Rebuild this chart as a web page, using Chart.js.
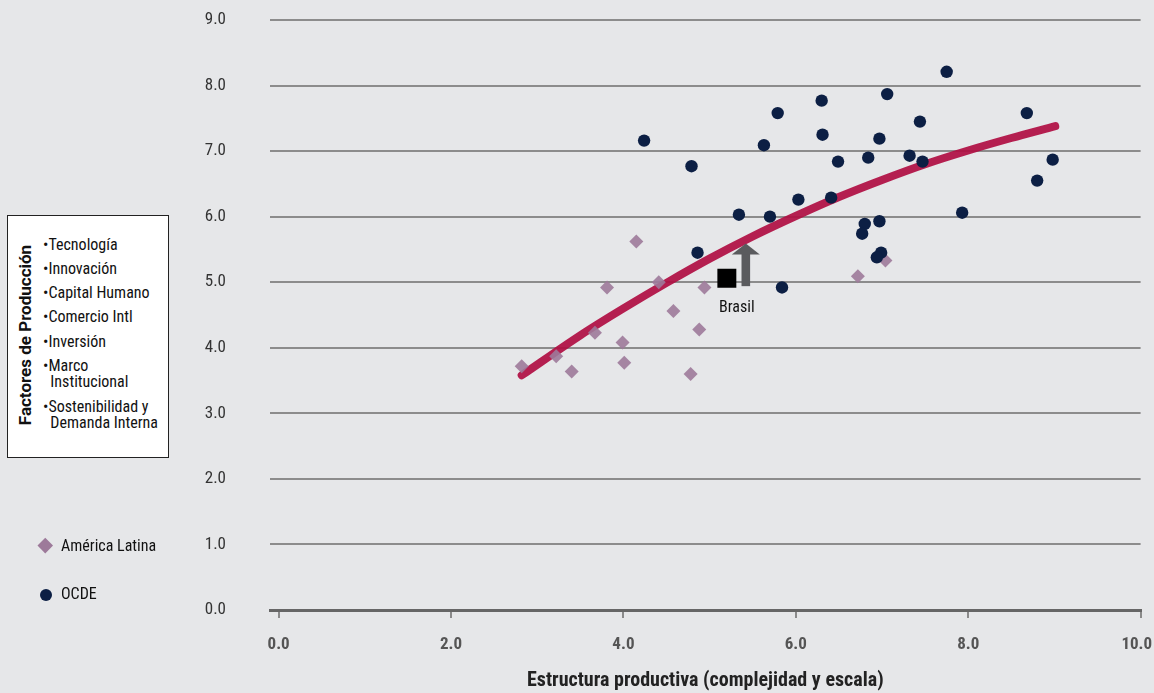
<!DOCTYPE html>
<html><head><meta charset="utf-8">
<script src="https://cdn.jsdelivr.net/npm/chart.js@4/dist/chart.umd.min.js"></script>
<style>
html,body{margin:0;padding:0;background:#e6e7e9;}
#wrap{position:relative;width:1154px;height:693px;overflow:hidden;}
#c{position:absolute;left:0;top:0;}
.f{font-family:'Liberation Sans Narrow','Roboto Condensed',Roboto,sans-serif;}
#box{position:absolute;left:7px;top:215px;width:160px;height:241px;border:1px solid #222;background:#fff;box-sizing:content-box;}
#vt{position:absolute;left:25px;top:335px;transform:translate(-50%,-50%) rotate(-90deg);white-space:nowrap;font-weight:bold;font-size:17px;color:#111;font-family:Roboto,sans-serif;}
.li{position:absolute;left:43px;font-size:16px;color:#111;white-space:nowrap;line-height:16.5px;}
.lg{position:absolute;left:61px;font-size:16px;color:#111;white-space:nowrap;line-height:18px;}
#dia{position:absolute;left:40px;top:540px;width:10.5px;height:10.5px;background:#9d7a9a;transform:rotate(45deg);}
#dot{position:absolute;left:39.5px;top:589px;width:12px;height:12px;border-radius:50%;background:#0c1f44;}
</style></head><body>
<div id="wrap">
<canvas id="c" width="1154" height="693"></canvas>
<div id="box"></div>
<div id="vt">Factores de Producción</div>
<div class="li f" style="top:236.5px">•Tecnología</div>
<div class="li f" style="top:260.5px">•Innovación</div>
<div class="li f" style="top:284.5px">•Capital Humano</div>
<div class="li f" style="top:308.5px">•Comercio Intl</div>
<div class="li f" style="top:333.5px">•Inversión</div>
<div class="li f" style="top:357.5px">•Marco<br>&nbsp;&nbsp;Institucional</div>
<div class="li f" style="top:398.5px">•Sostenibilidad y<br>&nbsp;&nbsp;Demanda Interna</div>
<div id="dia"></div><div class="lg f" style="top:537px">América Latina</div>
<div id="dot"></div><div class="lg f" style="top:585px">OCDE</div>
</div>
<script>
// ---- data ----
const ocdeX = [4.24,4.79,4.86,5.34,5.63,5.70,5.79,5.84,6.03,6.30,6.31,6.41,6.49,6.84,6.97,7.06,7.32,7.44,7.47,7.75,8.68,8.98,8.80,7.93,6.80,6.97,6.77,6.99,6.94];
const ocdeY = [7.16,6.77,5.45,6.03,7.09,6.00,7.58,4.92,6.26,7.77,7.25,6.29,6.84,6.90,7.19,7.87,6.93,7.45,6.84,8.21,7.58,6.87,6.55,6.06,5.89,5.93,5.74,5.45,5.38];
const latamX = [4.15,3.81,4.41,4.94,4.58,4.88,3.67,3.99,4.01,3.22,2.82,3.40,4.78,7.04,6.72];
const latamY = [5.62,4.92,5.00,4.92,4.56,4.28,4.23,4.08,3.77,3.87,3.72,3.64,3.60,5.33,5.09];
const brasilX = [5.20];
const brasilY = [5.06];
const brasilLabel = 'Brasil';
const arrowX = 5.42, arrowFrom = 4.94, arrowTo = 5.59;
const trendX = [2.82,3.5,4.0,4.5,5.0,5.5,6.0,6.5,7.0,7.5,8.0,8.5,9.01];
const trendY = [3.58,4.19,4.60,4.99,5.36,5.70,6.01,6.30,6.56,6.80,7.01,7.20,7.38];
const xTicks = [0,2,4,6,8,10];
const yTicks = [0,1,2,3,4,5,6,7,8,9];
const xTitle = 'Estructura productiva (complejidad y escala)';

const pts = (xs, ys) => xs.map((x, i) => ({x, y: ys[i]}));
const NARROW = "'Liberation Sans Narrow','Roboto Condensed',Roboto,sans-serif";

const annot = {
  id: 'annot',
  afterDatasetsDraw(chart) {
    const {ctx, scales: {x, y}} = chart;
    ctx.save();
    const ax = x.getPixelForValue(arrowX);
    const yb = y.getPixelForValue(arrowFrom), yt = y.getPixelForValue(arrowTo);
    ctx.fillStyle = '#5a5b5e';
    ctx.fillRect(ax - 4.3, yt + 10, 8.6, yb - yt - 10);
    ctx.beginPath();
    ctx.moveTo(ax - 14, yt + 11);
    ctx.lineTo(ax, yt);
    ctx.lineTo(ax + 14, yt + 11);
    ctx.closePath();
    ctx.fill();
    const bx = x.getPixelForValue(brasilX[0]), by = y.getPixelForValue(brasilY[0]);
    ctx.fillStyle = '#111';
    ctx.font = "16px " + NARROW;
    ctx.textAlign = 'center';
    ctx.textBaseline = 'middle';
    ctx.fillText(brasilLabel, bx + 10, by + 30);
    ctx.restore();
  }
};

new Chart(document.getElementById('c'), {
  type: 'scatter',
  data: {
    datasets: [
      {label: 'Brasil', data: pts(brasilX, brasilY), pointStyle: 'rect', pointRadius: 13.4, pointHoverRadius: 13.4,
       backgroundColor: '#000', borderColor: '#000', borderWidth: 0},
      {label: 'OCDE', data: pts(ocdeX, ocdeY), pointStyle: 'circle', pointRadius: 6.2, pointHoverRadius: 6.2,
       backgroundColor: '#0c1f44', borderWidth: 0},
      {label: 'América Latina', data: pts(latamX, latamY), pointStyle: 'rectRot', pointRadius: 7, pointHoverRadius: 7,
       backgroundColor: 'rgba(157,122,154,0.9)', borderWidth: 0},
      {label: 'Tendencia', type: 'line', data: pts(trendX, trendY), showLine: true, pointRadius: 0,
       borderColor: 'rgba(176,14,66,0.92)', borderWidth: 8, borderCapStyle: 'round', borderJoinStyle: 'round',
       cubicInterpolationMode: 'monotone', fill: false}
    ]
  },
  options: {
    responsive: false, devicePixelRatio: 1, animation: false,
    layout: {padding: {top: 20, right: 13, left: 0, bottom: 0}},
    plugins: {legend: {display: false}, tooltip: {enabled: false}},
    scales: {
      x: {
        type: 'linear', min: -0.1, max: 10,
        afterBuildTicks: s => { s.ticks = xTicks.map(v => ({value: v})); },
        afterFit: s => { s.height = 83; s.paddingLeft = 0; s.paddingRight = 0; },
        border: {display: true, color: '#666', width: 3},
        grid: {drawOnChartArea: false, drawTicks: true, tickLength: 8, color: '#8a8a8a', lineWidth: 2},
        ticks: {padding: 17, color: '#555', font: {family: NARROW, size: 17, weight: 'bold'},
                callback: v => v === 10 ? '10.0\u2002' : Number(v).toFixed(1), maxRotation: 0, autoSkip: false},
        title: {display: true, text: xTitle, color: '#222', padding: {top: 0, bottom: 0},
                font: {family: NARROW, size: 20, weight: 'bold'}}
      },
      y: {
        type: 'linear', min: 0, max: 9,
        afterBuildTicks: s => { s.ticks = yTicks.map(v => ({value: v})); },
        afterFit: s => { s.width = 270; s.paddingTop = 0; s.paddingBottom = 0; },
        border: {display: false},
        grid: {drawTicks: false, color: '#8c8c8c', lineWidth: 2},
        ticks: {padding: 44, color: '#333', font: {family: NARROW, size: 17},
                callback: v => Number(v).toFixed(1)}
      }
    }
  },
  plugins: [annot]
});
</script>
</body></html>
